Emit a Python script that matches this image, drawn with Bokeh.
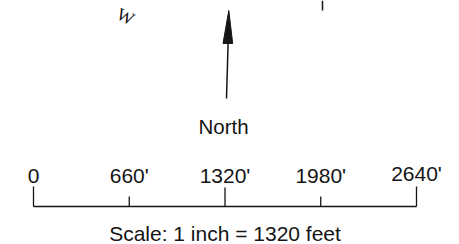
from bokeh.plotting import figure
from bokeh.models import Range1d
from bokeh.core.properties import value
from bokeh.embed import file_html
from bokeh.resources import INLINE

# ---- data ----
scale_ft = [0, 660, 1320, 1980, 2640]
scale_labels = ["0", "660'", "1320'", "1980'", "2640'"]
tick_major = [True, False, True, False, True]
north_label = "North"
scale_caption = "Scale: 1 inch = 1320 feet"

# ---- layout (page pixels) ----
W, H = 459, 244
px_per_ft = (416 - 33) / 2640.0
x0_px = 33  # pixel of 0 ft


def ft(px):
    return (px - x0_px) / px_per_ft


p = figure(width=W, height=H, output_backend="svg", toolbar_location=None,
           x_range=Range1d(-x0_px / px_per_ft, (W - x0_px) / px_per_ft),
           y_range=Range1d(H, 0), min_border=0,
           x_axis_location=None, y_axis_location=None)
p.grid.visible = False
p.outline_line_color = None
p.background_fill_color = "white"
p.border_fill_color = "white"

ink = "#151515"
font = value("Liberation Sans")

# scale bar
y_base = 206
p.line([scale_ft[0], scale_ft[-1]], [y_base, y_base], line_color=ink, line_width=1.4)
tops = [186 if m else 196 for m in tick_major]
tops[2] = 187
p.segment(x0=scale_ft, y0=[y_base] * len(scale_ft), x1=scale_ft, y1=tops,
          line_color=ink, line_width=1.3)
p.text(x=scale_ft, y=[175, 175, 175, 175, 173], text=scale_labels,
       text_align="center", text_baseline="alphabetic", text_font=font,
       text_font_size="21px", text_color=ink)
p.text(x=[scale_ft[2]], y=[233], text=[scale_caption], text_align="center",
       text_baseline="alphabetic", text_font=font, text_font_size="21px",
       text_color=ink)

# north arrow
p.line([ft(226), ft(227.6)], [98, 43], line_color=ink, line_width=1.5)
p.patch([ft(228.3), ft(222.5), ft(232.2)], [10, 43, 43], fill_color=ink,
        line_color=ink, line_width=1)
p.text(x=[ft(223)], y=[126], text=[north_label], text_align="center",
       text_baseline="alphabetic", text_font=font, text_font_size="20.5px",
       text_color=ink)

# fragments of the map above
p.text(x=[ft(125)], y=[16], text=["W"], text_align="center",
       text_baseline="alphabetic", text_font=value("Liberation Serif"),
       text_font_size="18px", text_color=ink, angle=-0.45)
p.segment(x0=[ft(322)], y0=[0], x1=[ft(322)], y1=[10], line_color=ink,
          line_width=1.5)

open("out.html", "w").write(file_html(p, INLINE))
